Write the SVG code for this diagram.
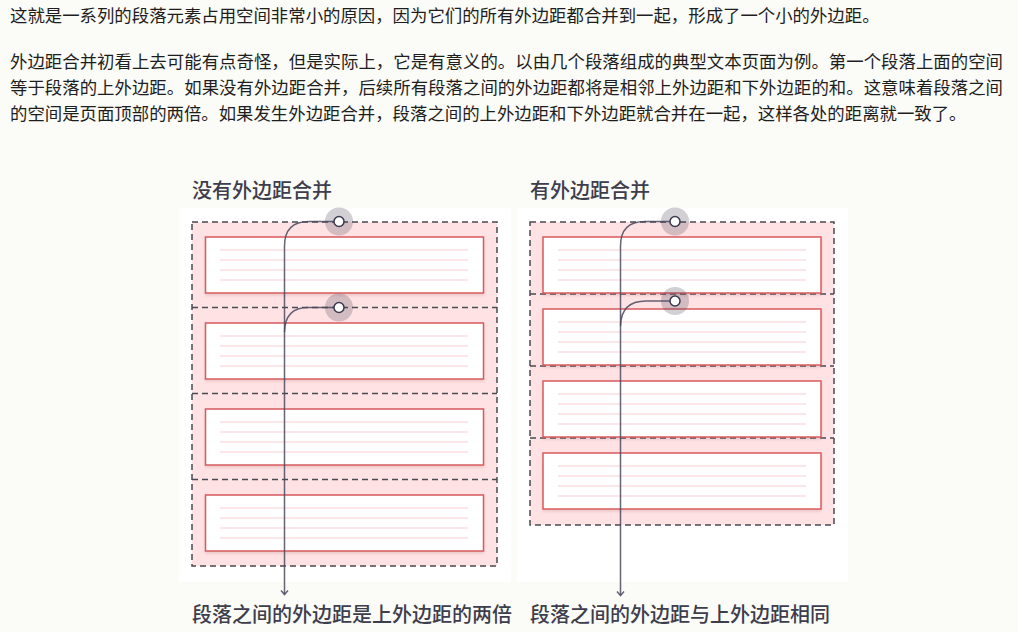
<svg xmlns="http://www.w3.org/2000/svg" width="1018" height="632" viewBox="0 0 1018 632">
<defs>
<style>
.para{font-family:"Noto Sans CJK SC","Noto Sans",sans-serif;font-size:17.4px;fill:#1e1e1e}
.lbl{font-family:"Noto Sans CJK SC","Noto Sans",sans-serif;font-size:20px;font-weight:500;fill:#3d3d4c}
.panel{fill:#ffffff}
.margin{fill:#ffe3e4}
.dash{fill:none;stroke:#4a4a52;stroke-width:1.5;stroke-dasharray:6 4}
.box{fill:#ffffff;stroke:#d85a5e;stroke-width:1.5;filter:url(#sh)}
.tl{stroke:#fbe6e9;stroke-width:2}
.halo{fill:#4a4458;fill-opacity:0.25}
.dot{fill:#ffffff;stroke:#3a3a4c;stroke-width:1.5}
.conn{fill:none;stroke:#4a4a5e;stroke-opacity:0.85;stroke-width:1.5}
</style>
<filter id="sh" x="-5%" y="-20%" width="110%" height="150%">
<feDropShadow dx="0" dy="2" stdDeviation="1.5" flood-color="#a06060" flood-opacity="0.2"/>
</filter>
</defs>
<rect width="1018" height="632" fill="#fbfbf7"/>
<g id="intro">
<text class="para" x="10" y="22">这就是一系列的段落元素占用空间非常小的原因，因为它们的所有外边距都合并到一起，形成了一个小的外边距。</text>
<text class="para" x="10" y="68" textLength="993" lengthAdjust="spacing">外边距合并初看上去可能有点奇怪，但是实际上，它是有意义的。以由几个段落组成的典型文本页面为例。第一个段落上面的空间</text>
<text class="para" x="10" y="94" textLength="993" lengthAdjust="spacing">等于段落的上外边距。如果没有外边距合并，后续所有段落之间的外边距都将是相邻上外边距和下外边距的和。这意味着段落之间</text>
<text class="para" x="10" y="120">的空间是页面顶部的两倍。如果发生外边距合并，段落之间的上外边距和下外边距就合并在一起，这样各处的距离就一致了。</text>
</g>
<!-- Left panel -->
<g id="left-panel">
<rect class="panel" x="179" y="208" width="332" height="374"/>
<rect class="margin" x="192" y="222" width="305" height="344"/>
<path class="dash" d="M192 222H497V566H192Z M192 307.5H497 M192 393.5H497 M192 479.5H497"/>
<text class="lbl" x="192" y="198">没有外边距合并</text>
</g>
<g id="left-p1"><rect class="box" x="205.5" y="237" width="278" height="56"/><path class="tl" d="M220 250H468M220 260H468M220 270H468M220 280H468"/></g>
<g id="left-p2"><rect class="box" x="205.5" y="323" width="278" height="56"/><path class="tl" d="M220 336H468M220 346H468M220 356H468M220 366H468"/></g>
<g id="left-p3"><rect class="box" x="205.5" y="409" width="278" height="56"/><path class="tl" d="M220 422H468M220 432H468M220 442H468M220 452H468"/></g>
<g id="left-p4"><rect class="box" x="205.5" y="495" width="278" height="56"/><path class="tl" d="M220 508H468M220 518H468M220 528H468M220 538H468"/></g>
<!-- Right panel -->
<g id="right-panel">
<rect class="panel" x="517" y="208" width="331" height="374"/>
<rect class="margin" x="530" y="222" width="304" height="303"/>
<path class="dash" d="M530 222H834V525H530Z M530 294H834 M530 366H834 M530 438H834"/>
<text class="lbl" x="530" y="198">有外边距合并</text>
</g>
<g id="right-p1"><rect class="box" x="543" y="237" width="278" height="56"/><path class="tl" d="M558 250H806M558 260H806M558 270H806M558 280H806"/></g>
<g id="right-p2"><rect class="box" x="543" y="309" width="278" height="56"/><path class="tl" d="M558 322H806M558 332H806M558 342H806M558 352H806"/></g>
<g id="right-p3"><rect class="box" x="543" y="381" width="278" height="56"/><path class="tl" d="M558 394H806M558 404H806M558 414H806M558 424H806"/></g>
<g id="right-p4"><rect class="box" x="543" y="453" width="278" height="56"/><path class="tl" d="M558 466H806M558 476H806M558 486H806M558 496H806"/></g>
<!-- connectors -->
<g id="connectors">
<path class="conn" d="M339 221.5H309Q284.5 221.5 284.5 246V594"/>
<path class="conn" d="M339 307.5H308Q285 307.5 284.5 332"/>
<path class="conn" d="M281 590.5L284.5 594.5L288 590.5"/>
<path class="conn" d="M675 221.5H645Q620.5 221.5 620.5 246V595"/>
<path class="conn" d="M675 301H646Q621 301 620.5 326"/>
<path class="conn" d="M617 591.5L620.5 595.5L624 591.5"/>
</g>
<g id="left-dot1"><circle class="halo" cx="339" cy="221.5" r="14"/><circle class="dot" cx="339" cy="221.5" r="5"/></g>
<g id="left-dot2"><circle class="halo" cx="339" cy="307.5" r="14"/><circle class="dot" cx="339" cy="307.5" r="5"/></g>
<g id="right-dot1"><circle class="halo" cx="675" cy="221.5" r="14"/><circle class="dot" cx="675" cy="221.5" r="5"/></g>
<g id="right-dot2"><circle class="halo" cx="675" cy="301" r="14"/><circle class="dot" cx="675" cy="301" r="5"/></g>
<g id="left-caption"><text class="lbl" x="192" y="622">段落之间的外边距是上外边距的两倍</text></g>
<g id="right-caption"><text class="lbl" x="530" y="622">段落之间的外边距与上外边距相同</text></g>
</svg>
